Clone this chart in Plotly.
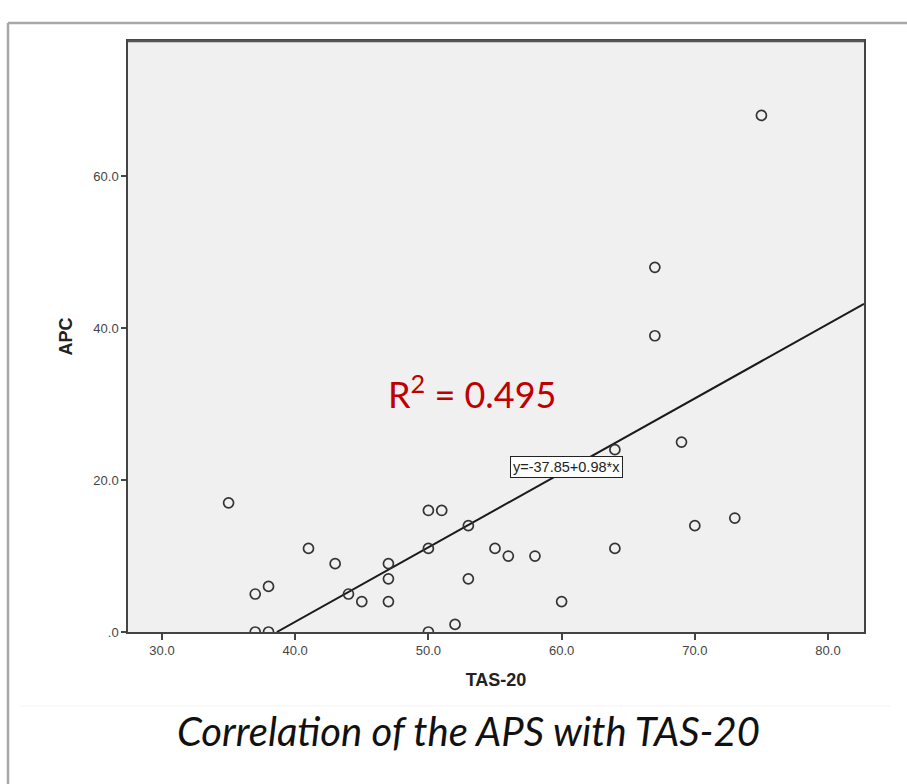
import plotly.graph_objects as go

# Data
tas20 = [75, 67, 67, 69, 64, 70, 73, 64, 60, 35, 50, 51, 53, 41, 50, 55, 56, 58,
         43, 47, 47, 53, 38, 37, 44, 45, 47, 52, 37, 38, 50]
apc = [68, 48, 39, 25, 24, 14, 15, 11, 4, 17, 16, 16, 14, 11, 11, 11, 10, 10,
       9, 9, 7, 7, 6, 5, 5, 4, 4, 1, 0, 0, 0]
intercept = -37.85
slope = 0.98
r2 = 0.495
x_ticks = [30, 40, 50, 60, 70, 80]
x_tick_labels = ["30.0", "40.0", "50.0", "60.0", "70.0", "80.0"]
y_ticks = [0, 20, 40, 60]
y_tick_labels = [".0", "20.0", "40.0", "60.0"]

x_range = [27.45, 82.7]
y_range = [0, 77.8]

fit_x = [-intercept / slope, x_range[1]]
fit_y = [intercept + slope * v for v in fit_x]

fig = go.Figure()
fig.add_trace(go.Scatter(
    x=fit_x, y=fit_y, mode="lines",
    line=dict(color="#1a1a1a", width=2), hoverinfo="skip", cliponaxis=True))
fig.add_trace(go.Scatter(
    x=tas20, y=apc, mode="markers",
    marker=dict(symbol="circle-open", size=10, color="#333333", line=dict(width=1.7)),
    cliponaxis=True))

L, R, T, B = 128, 43, 41, 152
W, H = 907, 784
pw, ph = W - L - R, H - T - B

def px(x):
    return (x - L) / pw

def py(y):
    return (H - B - y) / ph

shapes = [
    dict(type="line", xref="paper", yref="paper", x0=px(8), x1=px(907), y0=py(23), y1=py(23),
         line=dict(color="#a8a8a8", width=2.5)),
    dict(type="line", xref="paper", yref="paper", x0=px(8), x1=px(8), y0=py(23), y1=py(784),
         line=dict(color="#a8a8a8", width=2.5)),
    dict(type="line", xref="paper", yref="paper", x0=px(20), x1=px(890), y0=py(706), y1=py(706),
         line=dict(color="#f2f2f2", width=1)),
    dict(type="line", xref="paper", yref="paper", x0=0, x1=1, y0=1, y1=1,
         line=dict(color="#555555", width=2.5)),
]

annotations = [
    dict(x=px(468), y=py(731), xref="paper", yref="paper", showarrow=False,
         xanchor="center", yanchor="middle",
         text="<i>Correlation of the APS with TAS-20</i>",
         font=dict(family="Lato, Open Sans, sans-serif", size=40, color="#111111")),
    dict(x=px(472), y=py(392), xref="paper", yref="paper", showarrow=False,
         xanchor="center", yanchor="middle",
         text="R<sup>2</sup> = 0.495",
         font=dict(family="Lato, Open Sans, sans-serif", size=36, color="#c00000")),
    dict(x=px(566), y=py(467), xref="paper", yref="paper", showarrow=False,
         xanchor="center", yanchor="middle",
         text="y=-37.85+0.98*x", bgcolor="white", bordercolor="#222222", borderwidth=1,
         borderpad=2,
         font=dict(family="Liberation Sans, Arial", size=14.5, color="#222222")),
]

fig.update_layout(
    width=W, height=H,
    margin=dict(l=L, r=R, t=T, b=B),
    paper_bgcolor="white",
    plot_bgcolor="#f0f0f0",
    showlegend=False,
    shapes=shapes,
    annotations=annotations,
    xaxis=dict(
        range=x_range, tickvals=x_ticks, ticktext=x_tick_labels,
        showgrid=False, zeroline=False, showline=True, linecolor="#444444", linewidth=1.5,
        mirror=True, ticks="outside", ticklen=6, tickcolor="#444444", tickwidth=1.5,
        tickfont=dict(family="Liberation Sans Narrow, Liberation Sans, Arial", size=13, color="#444444"),
        title=dict(text="<b>TAS-20</b>", standoff=16,
                   font=dict(family="Liberation Sans Narrow, Liberation Sans, Arial", size=18, color="#222222")),
    ),
    yaxis=dict(
        range=y_range, tickvals=y_ticks, ticktext=y_tick_labels,
        showgrid=False, zeroline=False, showline=True, linecolor="#444444", linewidth=1.5,
        mirror=True, ticks="outside", ticklen=5, tickcolor="#444444", tickwidth=1.5,
        tickfont=dict(family="Liberation Sans Narrow, Liberation Sans, Arial", size=13, color="#444444"),
        title=dict(text="<b>APC</b>", standoff=16,
                   font=dict(family="Liberation Sans Narrow, Liberation Sans, Arial", size=18, color="#222222")),
    ),
)

fig.write_html("out.html")
